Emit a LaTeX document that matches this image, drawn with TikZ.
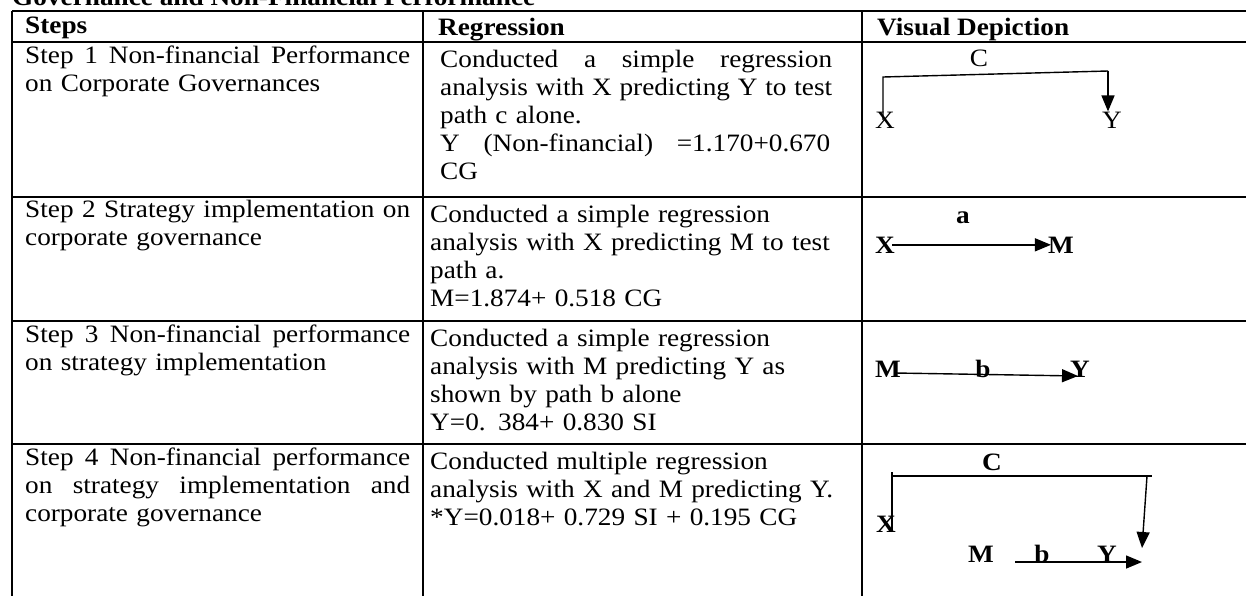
\documentclass[tikz,border=0pt]{standalone}
\usepackage{fontspec}
\setmainfont{Liberation Serif}[FakeStretch=1.09]
\usetikzlibrary{arrows.meta}

\newcommand{\stretchline}[2]{{\spaceskip=0pt\xspaceskip=0pt\makebox[#1][s]{#2}}}

\tikzset{
  rule/.style={line width=1.8pt},
  wire/.style={line width=1.4pt},
  arr/.style={wire, -{Triangle[length=16pt,width=13pt]}},
  cell/.style={anchor=base west, inner sep=0pt, text width=#1,
    font=\fontsize{25}{28}\selectfont},
  head/.style={anchor=base west, inner sep=0pt,
    font=\fontsize{25}{28}\selectfont\bfseries},
  var/.style={anchor=base, inner sep=0pt, font=\fontsize{25}{28}\selectfont},
  bvar/.style={var, font=\fontsize{25}{28}\selectfont\bfseries},
}

\begin{document}
\begin{tikzpicture}[x=1pt,y=-1pt]
      \useasboundingbox (0,0) rectangle (1246,595);

      \node[head] (title) at (12,5) {Governance and Non-Financial Performance};

      {
        \foreach \y in {11,42,197,321,444}
          \draw[rule] (12,\y) -- (1260,\y);
        \foreach \x in {12,423,862,1252}
          \draw[rule] (\x,11) -- (\x,600);
      }

      {
        \node[head] (hsteps) at (25,33) {Steps};
        \node[head] (hreg) at (438,35) {Regression};
        \node[head] (hvis) at (877,35) {Visual Depiction};
      }

      {
        \node[cell=410pt] (step1) at (25,63)
        {\stretchline{385pt}{Step 1 Non-financial Performance}\\
          on Corporate Governances};
        \node[cell=410pt] (step2) at (25,217)
        {\stretchline{385pt}{Step 2 Strategy implementation on}\\
          corporate governance};
        \node[cell=410pt] (step3) at (25,342)
        {\stretchline{385pt}{Step 3 Non-financial performance}\\
          on strategy implementation};
        \node[cell=410pt] (step4) at (25,465)
        {\stretchline{385pt}{Step 4 Non-financial performance}\\
          \stretchline{385pt}{on strategy implementation and}\\
          corporate governance};
      }

      {
        \node[cell=415pt] (reg1) at (440,67)
        {\stretchline{392pt}{Conducted a simple regression}\\
          \stretchline{392pt}{analysis with X predicting Y to test}\\
          path c alone.\\
          \stretchline{390pt}{Y (Non-financial) =1.170+0.670}\\
          CG};
        \node[cell=425pt] (reg2) at (430,222)
        {Conducted a simple regression\\
          analysis with X predicting M to test\\
          path a.\\
          M=1.874+ 0.518 CG};
        \node[cell=425pt] (reg3) at (430,346)
        {Conducted a simple regression\\
          analysis with M predicting Y as\\
          shown by path b alone\\
          Y=0. 384+ 0.830 SI};
        \node[cell=425pt] (reg4) at (430,469)
        {Conducted multiple regression\\
          analysis with X and M predicting Y.\\
          {*}Y=0.018+ 0.729 SI + 0.195 CG};
      }

      {
        \node[var] (c1) at (979,66) {C};
        \node[var] (x1) at (885,128) {X};
        \node[var] (y1) at (1112,128) {Y};
        \coordinate (c1left) at (883,77);
        \coordinate (c1right) at (1108,71);

        \draw[wire] (x1.center -| c1left) -- (c1left) -- (c1right);
        \draw[arr] (c1right) -- (c1right |- y1.north);
      }

      {
        \node[bvar] (a2) at (963,223) {a};
        \node[bvar] (x2) at (885,253) {X};
        \node[bvar] (m2) at (1061,253) {M};

        \draw[arr] ([xshift=-3pt]x2.east) -- ([xshift=3pt]m2.west);
      }

      {
        \node[bvar] (m3) at (888,377) {M};
        \node[bvar] (b3) at (983,377) {b};
        \node[bvar] (y3) at (1080,377) {Y};

        \draw[arr] ([xshift=-6pt,yshift=4pt]m3.base east)
          -- ([xshift=-2pt,yshift=1pt]y3.base);
      }

      {
        \node[bvar] (c4) at (992,470) {C};
        \node[bvar] (x4) at (886,532) {X};
        \node[bvar] (m4) at (981,562) {M};
        \node[bvar] (b4) at (1042,562) {b};
        \node[bvar] (y4) at (1107,562) {Y};
        \coordinate (c4tick) at (892,472);
        \coordinate (c4left) at (892,476);
        \coordinate (c4end) at (1152,476);
        \coordinate (c4down) at (1147,476);
        \coordinate (b4start) at (1015,562);
        \coordinate (b4tip) at (1142,562);

        \draw[wire] (x4.base -| c4left) -- (c4tick);
        \draw[wire] (c4left) -- (c4end);
        \draw[arr] (c4down) -- (1142,548);
        \draw[arr] (b4start) -- (b4tip);
      }
\end{tikzpicture}
\end{document}
